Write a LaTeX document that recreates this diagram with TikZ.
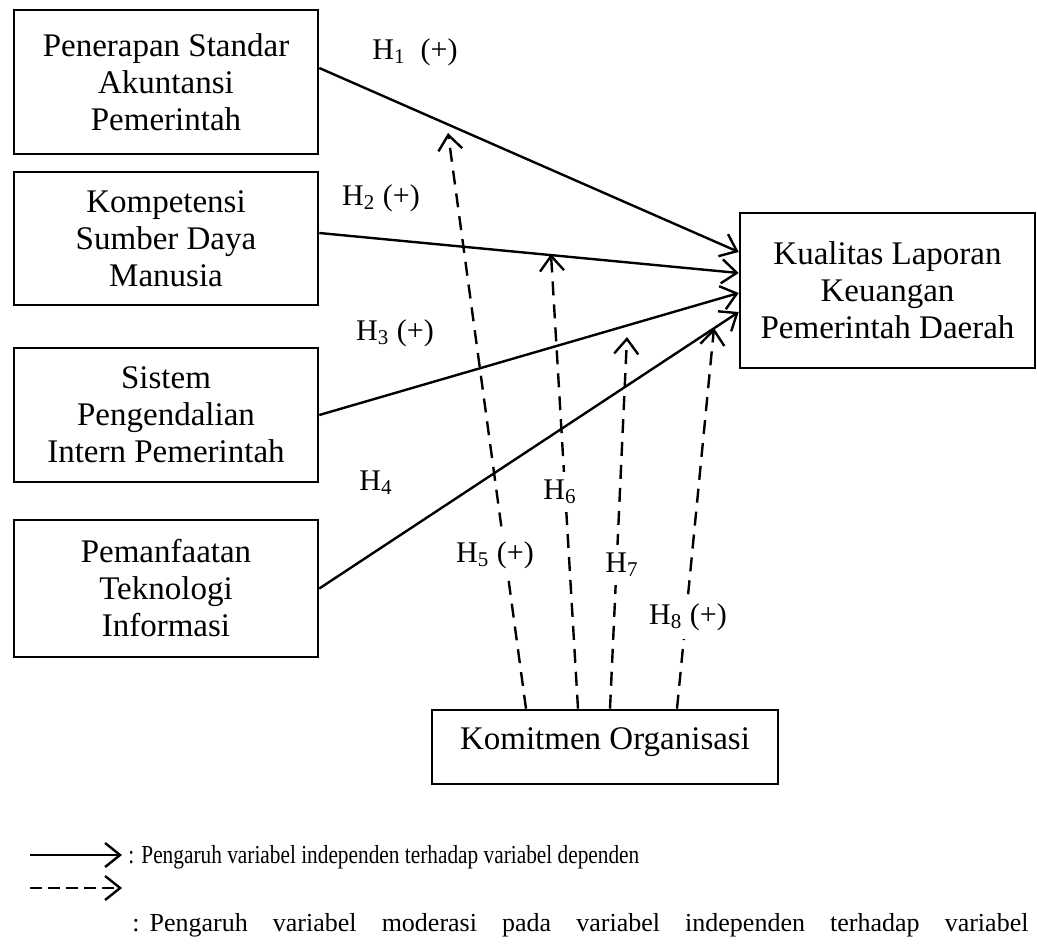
\documentclass[tikz,border=0pt]{standalone}
\usepackage{fontspec}
\usepackage{graphicx}
\setmainfont{Liberation Serif}
\usetikzlibrary{arrows.meta,positioning}

\begin{document}
\begin{tikzpicture}[x=0.5pt, y=-0.5pt,
  >={Straight Barb[length=7.5pt,width=12pt,line width=1.2pt]},
  var/.style={draw, line width=1.3pt, align=center, inner sep=0pt,
    font=\fontsize{16.5}{18.5}\selectfont},
  link/.style={->, line width=1.2pt},
  moder/.style={->, line width=1.2pt, dash pattern=on 7pt off 4.5pt},
  hyp/.style={font=\fontsize{15}{18}\selectfont, inner sep=1pt},
  hyp on/.style={hyp, fill=white, inner sep=4pt},
  legend/.style={font=\fontsize{13}{15}\selectfont, inner sep=0pt}]

\useasboundingbox (0,0) rectangle (1037,947);

% independent variables
\foreach \m/\y/\h/\t in {1/82/144/{Penerapan Standar\\Akuntansi\\Pemerintah},
  2/238.5/133/{Kompetensi\\Sumber Daya\\Manusia},
  3/415/134/{Sistem\\Pengendalian\\Intern Pemerintah},
  4/588.5/137/{Pemanfaatan\\Teknologi\\Informasi}}
  \node [var, minimum width=152pt, minimum height=\h*0.5pt] (indep-\m) at (166,\y) {\t};

\node [var, minimum width=147.5pt, minimum height=77.5pt] (dep) at (887.5,290.5)
  {Kualitas Laporan\\Keuangan\\Pemerintah Daerah};

\node [var, minimum width=173pt, minimum height=37pt, text depth=8.5pt] (mod) at (605,747)
  {Komitmen Organisasi};

% direct effects
\foreach \i/\y in {1/252,2/273,3/293,4/312}
  \coordinate (dep-in-\i) at (dep.west |- 0,\y);

\foreach \i/\s in {1/7,2/2.75,3/0,4/0}
  \draw [link] ([yshift=\s pt]indep-\i.east) -- (dep-in-\i);

% moderating effects
\foreach \i/\s/\x/\y in {5/-39.5/448/133, 6/-13.5/551/254, 7/2.5/627/337, 8/36/714/328} {
  \coordinate (mod-tip-\i) at (\x,\y);
  \draw [moder] ([xshift=\s pt]mod.north) -- (mod-tip-\i);
}

\node [hyp] (h-1) at (415,52) {H\textsubscript{1}\ \ (+)};
\node [hyp] (h-2) at (381,198) {H\textsubscript{2} (+)};
\node [hyp] (h-3) at (395,333) {H\textsubscript{3} (+)};
\node [hyp] (h-4) at (376,483) {H\textsubscript{4}};
\node [hyp on] (h-5) at (495,555) {H\textsubscript{5} (+)};
\node [hyp on] (h-6) at (560,492) {H\textsubscript{6}};
\node [hyp on] (h-7) at (622,565) {H\textsubscript{7}};
\node [hyp on] (h-8) at (688,617) {H\textsubscript{8} (+)};

% legend
\coordinate (leg-a) at (30,855);
\coordinate (leg-b) at (122,855);
\draw [link] (leg-a) -- (leg-b);
\node [legend, anchor=west] (leg-txt-a) at (128,857)
  {\scalebox{0.82}[1]{: Pengaruh variabel independen terhadap variabel dependen}};

\coordinate (leg-c) at (30,888);
\coordinate (leg-d) at (122,888);
\draw [moder, dash pattern=on 6pt off 3pt] (leg-c) -- (leg-d);
\node [legend, anchor=west] (leg-txt-b) at (132,925)
  {\makebox[448pt][s]{:\kern5pt Pengaruh variabel moderasi pada variabel independen terhadap variabel}};

\end{tikzpicture}
\end{document}
